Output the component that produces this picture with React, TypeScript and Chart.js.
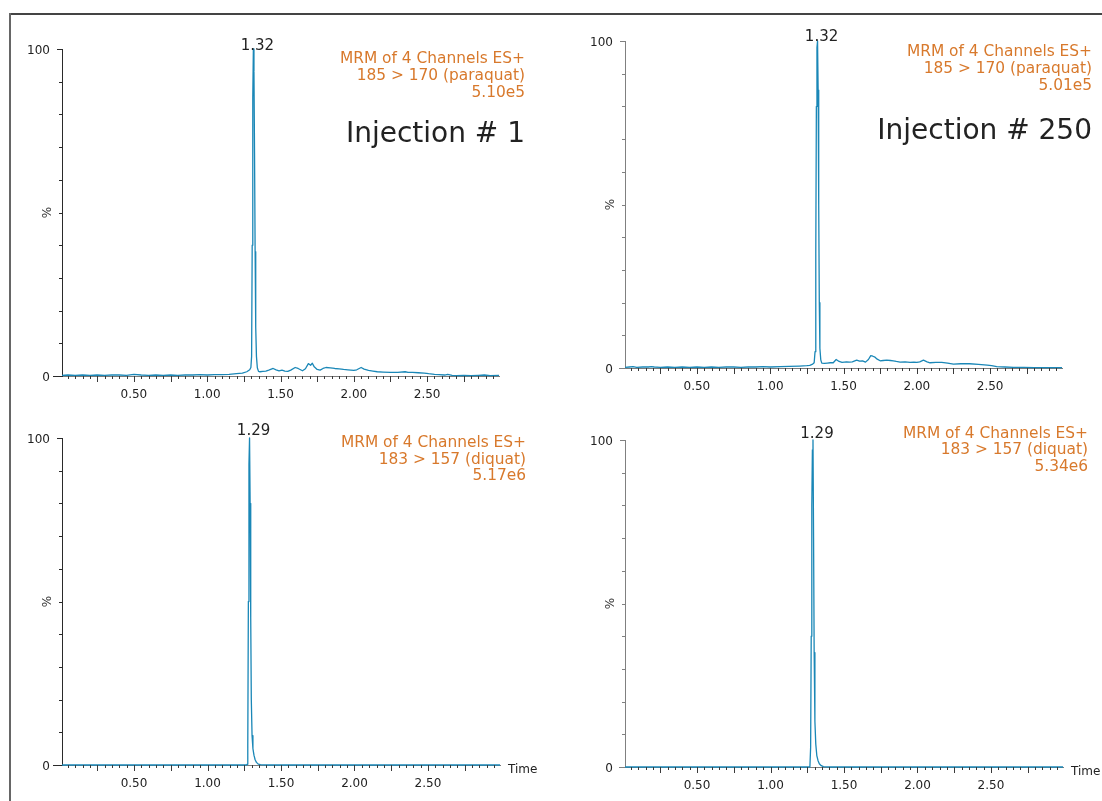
import React, { useEffect, useRef } from 'react';
import { Chart, registerables } from 'chart.js';

Chart.register(...registerables);

const FONT_FAMILY = '"DejaVu Sans", Verdana, sans-serif';
const LINE_COLOR = '#1a87b7';
const HEADER_COLOR = '#d8792c';
const TEXT_COLOR = '#222222';

// axes
const X_MIN = 0.01;
const X_MAX = 2.99;
const xTickLabels = ['0.50', '1.00', '1.50', '2.00', '2.50'];
const yTickLabels = ['0', '100'];
const yAxisTitle = '%';
const xAxisTitle = 'Time';
const xMinorStep = 0.05;
const xMajorStep = 0.25;
const yStep = 10;

// Injection # 1, 185 > 170 (paraquat)
const paraquatInj1Time = [
  0.01, 0.05, 0.10, 0.15, 0.20, 0.25, 0.30, 0.35, 0.40, 0.45, 0.50, 0.55, 0.60, 0.65, 0.70, 0.75, 0.80, 0.85, 0.90, 0.95,
  1.00, 1.05, 1.10, 1.15, 1.20, 1.24, 1.27, 1.29,
  1.298, 1.303, 1.307, 1.311, 1.315, 1.319, 1.323, 1.327, 1.331, 1.336, 1.342,
  1.35, 1.36, 1.38, 1.40, 1.42, 1.45, 1.47, 1.49, 1.51, 1.53, 1.55, 1.57,
  1.60, 1.62, 1.65, 1.67, 1.69, 1.705, 1.717, 1.73, 1.75, 1.77, 1.79,
  1.81, 1.84, 1.87, 1.90, 1.93, 1.96,
  2.00, 2.02, 2.05, 2.07, 2.10, 2.13, 2.16, 2.20, 2.25, 2.30,
  2.35, 2.37, 2.40, 2.44, 2.48, 2.51, 2.55, 2.58, 2.62, 2.64, 2.67, 2.70,
  2.75, 2.80, 2.85, 2.89, 2.93, 2.99,
];
const paraquatInj1Pct = [
  0.2, 0.3, 0.2, 0.3, 0.2, 0.3, 0.2, 0.3, 0.3, 0.2, 0.5, 0.3, 0.2, 0.3, 0.2, 0.3, 0.2, 0.3, 0.3, 0.4,
  0.3, 0.4, 0.4, 0.5, 0.7, 0.9, 1.3, 1.9,
  2.6, 6, 40, 85, 100, 93, 68, 38, 15, 6, 2.5,
  1.4, 1.3, 1.4, 1.5, 1.8, 2.3, 1.9, 1.6, 1.8, 1.5, 1.4, 1.8,
  2.6, 2.3, 1.6, 2.2, 3.8, 3.3, 3.9, 2.8, 2.0, 1.8, 2.3,
  2.6, 2.5, 2.3, 2.2, 2.0, 1.9,
  1.7, 1.9, 2.6, 2.1, 1.7, 1.5, 1.3, 1.2, 1.1, 1.1,
  1.3, 1.1, 1.1, 1.0, 0.9, 0.7, 0.5, 0.4, 0.3, 0.5, 0.2, 0.1,
  0.2, 0.1, 0.2, 0.3, 0.1, 0.2,
];

// Injection # 250, 185 > 170 (paraquat)
const paraquatInj250Time = [
  0.01, 0.04, 0.065, 0.09, 0.13, 0.17, 0.19, 0.21, 0.25,
  0.30, 0.35, 0.40, 0.45, 0.50, 0.55, 0.60, 0.65, 0.70, 0.75, 0.80, 0.85, 0.90, 0.95, 1.00,
  1.07, 1.13, 1.20, 1.25, 1.27, 1.29,
  1.300, 1.306, 1.311, 1.315, 1.319, 1.323, 1.327, 1.331, 1.335, 1.339, 1.345, 1.352,
  1.37, 1.39, 1.41, 1.43, 1.45, 1.47, 1.49,
  1.52, 1.54, 1.56, 1.59, 1.61, 1.63, 1.65, 1.67, 1.686, 1.70, 1.715, 1.73, 1.75, 1.77,
  1.795, 1.82, 1.84, 1.86, 1.886, 1.92, 1.954, 1.98, 2.00, 2.02, 2.045, 2.07, 2.09,
  2.13, 2.17, 2.21, 2.25, 2.30, 2.36, 2.42, 2.48, 2.51, 2.545, 2.60, 2.66, 2.73, 2.80, 2.88, 2.95, 2.99,
];
const paraquatInj250Pct = [
  0.2, 0.3, 0.4, 0.2, 0.3, 0.3, 0.4, 0.3, 0.2,
  0.3, 0.2, 0.3, 0.2, 0.3, 0.2, 0.3, 0.2, 0.3, 0.3, 0.2, 0.3, 0.3, 0.4, 0.3,
  0.4, 0.5, 0.6, 0.7, 0.8, 1.2,
  1.6, 5, 35, 80, 98, 100, 85, 50, 20, 6, 2.5, 1.5,
  1.4, 1.5, 1.6, 1.6, 2.6, 2.0, 1.7,
  1.9, 1.8, 1.9, 2.4, 2.1, 2.2, 1.8, 2.6, 3.8, 3.6, 3.3, 2.7, 2.2, 2.3,
  2.4, 2.3, 2.2, 2.0, 1.8, 1.9, 1.7, 1.8, 1.7, 1.9, 2.4, 1.9, 1.6,
  1.7, 1.7, 1.5, 1.2, 1.3, 1.3, 1.1, 0.9, 0.7, 0.4, 0.3, 0.2, 0.2, 0.1, 0.1, 0.1, 0.1,
];

// Injection # 1, 183 > 157 (diquat)
const diquatInj1Time = [
  0.01, 0.50, 1.00, 1.20, 1.265,
  1.270, 1.274, 1.278, 1.282, 1.286, 1.290, 1.294, 1.298, 1.303, 1.309,
  1.316, 1.324, 1.333, 1.345, 1.36, 1.40,
  1.60, 2.00, 2.50, 2.99,
];
const diquatInj1Pct = [
  0, 0, 0, 0, 0,
  0.2, 6, 50, 92, 100, 80, 45, 20, 9, 5,
  3, 1.6, 0.8, 0.3, 0.1, 0,
  0, 0, 0, 0,
];

// Injection # 250, 183 > 157 (diquat)
const diquatInj250Time = [
  0.01, 0.50, 1.00, 1.20, 1.262,
  1.268, 1.273, 1.277, 1.281, 1.285, 1.289, 1.293, 1.297, 1.302, 1.308,
  1.315, 1.323, 1.332, 1.345, 1.36, 1.40,
  1.60, 2.00, 2.50, 2.99,
];
const diquatInj250Pct = [
  0, 0, 0, 0, 0,
  0.1, 6, 40, 80, 97, 100, 70, 35, 14, 7,
  3.5, 2, 1, 0.4, 0.1, 0,
  0, 0, 0, 0,
];

const headerParaquatInj1 = ['MRM of 4 Channels ES+', '185 > 170 (paraquat)', '5.10e5'];
const headerParaquatInj250 = ['MRM of 4 Channels ES+', '185 > 170 (paraquat)', '5.01e5'];
const headerDiquatInj1 = ['MRM of 4 Channels ES+', '183 > 157 (diquat)', '5.17e6'];
const headerDiquatInj250 = ['MRM of 4 Channels ES+', '183 > 157 (diquat)', '5.34e6'];
const injectionLabels = ['Injection # 1', 'Injection # 250'];
const peakLabels = ['1.32', '1.32', '1.29', '1.29'];
const peakTimes = [1.315, 1.323, 1.286, 1.289];

// layout (page pixel positions)
type Rect = { left: number; top: number; width: number; height: number };
type Area = { left: number; right: number; top: number; bottom: number };
type PanelDef = {
  id: string;
  times: number[];
  values: number[];
  header: string[];
  injection: string;
  peakLabel: string;
  peakTime: number;
  showTime: boolean;
  canvas: Rect;
  area: Area;
  headerRight: number;
  headerBaseline: number;
  injectionBaseline: number;
  peakBaseline: number;
  yAxisColor: string;
  zeroTickLen: number;
};

const panels: PanelDef[] = [
  {
    id: 'p1', times: paraquatInj1Time, values: paraquatInj1Pct, header: headerParaquatInj1,
    injection: injectionLabels[0], peakLabel: peakLabels[0], peakTime: peakTimes[0], showTime: false,
    canvas: { left: 12, top: 16, width: 556, height: 384 },
    area: { left: 62, right: 499, top: 49, bottom: 376 },
    headerRight: 525, headerBaseline: 63.3, injectionBaseline: 141.7, peakBaseline: 50,
    yAxisColor: '#2a2a2a', zeroTickLen: 9,
  },
  {
    id: 'p2', times: paraquatInj250Time, values: paraquatInj250Pct, header: headerParaquatInj250,
    injection: injectionLabels[1], peakLabel: peakLabels[1], peakTime: peakTimes[1], showTime: false,
    canvas: { left: 568, top: 16, width: 534, height: 384 },
    area: { left: 625, right: 1062, top: 41, bottom: 368 },
    headerRight: 1092, headerBaseline: 56, injectionBaseline: 139, peakBaseline: 41,
    yAxisColor: '#808080', zeroTickLen: 6,
  },
  {
    id: 'p3', times: diquatInj1Time, values: diquatInj1Pct, header: headerDiquatInj1,
    injection: '', peakLabel: peakLabels[2], peakTime: peakTimes[2], showTime: true,
    canvas: { left: 12, top: 400, width: 556, height: 401 },
    area: { left: 62, right: 500, top: 438, bottom: 765 },
    headerRight: 526, headerBaseline: 446.7, injectionBaseline: 0, peakBaseline: 435,
    yAxisColor: '#2a2a2a', zeroTickLen: 9,
  },
  {
    id: 'p4', times: diquatInj250Time, values: diquatInj250Pct, header: headerDiquatInj250,
    injection: '', peakLabel: peakLabels[3], peakTime: peakTimes[3], showTime: true,
    canvas: { left: 568, top: 400, width: 534, height: 401 },
    area: { left: 625, right: 1063, top: 440, bottom: 767 },
    headerRight: 1088, headerBaseline: 437.5, injectionBaseline: 0, peakBaseline: 438,
    yAxisColor: '#808080', zeroTickLen: 6,
  },
];

const Y_AXIS_W = 40;
const X_AXIS_H = 24;
const HEADER_LINE_STEP = 16.8;

function buildXTicks(): number[] {
  const out: number[] = [];
  for (let k = 1; k * xMinorStep < X_MAX; k++) out.push(+(k * xMinorStep).toFixed(2));
  return out;
}
function buildYTicks(): number[] {
  const out: number[] = [];
  for (let v = 0; v <= 100; v += yStep) out.push(v);
  return out;
}

function PanelChart({ p }: { p: PanelDef }) {
  const ref = useRef<HTMLCanvasElement | null>(null);

  useEffect(() => {
    const canvas = ref.current;
    if (!canvas) return;
    const c = p.canvas;
    const a = p.area;
    const pad = {
      left: a.left - c.left - Y_AXIS_W,
      right: c.left + c.width - a.right,
      top: a.top - c.top,
      bottom: c.top + c.height - a.bottom - X_AXIS_H,
    };

    const annotate = {
      id: 'annotate-' + p.id,
      afterDraw(chart: any) {
        const ctx = chart.ctx as CanvasRenderingContext2D;
        const xs = chart.scales.x;
        const ys = chart.scales.y;
        const ca = chart.chartArea;
        ctx.save();
        // x tick marks
        ctx.strokeStyle = '#3a3a3a';
        ctx.lineWidth = 1;
        ctx.beginPath();
        xs.ticks.forEach((tk: any) => {
          const px = Math.round(xs.getPixelForValue(tk.value)) + 0.5;
          const r = tk.value / xMajorStep;
          const major = Math.abs(r - Math.round(r)) < 1e-6;
          const len = major ? 6 : 3;
          ctx.moveTo(px, ca.bottom);
          ctx.lineTo(px, ca.bottom + len);
        });
        ctx.stroke();
        // y tick marks
        ctx.strokeStyle = p.yAxisColor;
        ctx.beginPath();
        ys.ticks.forEach((tk: any) => {
          const py = Math.round(ys.getPixelForValue(tk.value)) + 0.5;
          const len = tk.value === 0 ? p.zeroTickLen : tk.value === 100 ? 5 : 3;
          ctx.moveTo(ca.left - len, py);
          ctx.lineTo(ca.left, py);
        });
        ctx.stroke();
        // "%" axis title
        ctx.fillStyle = '#333';
        ctx.font = `12px ${FONT_FAMILY}`;
        ctx.save();
        ctx.translate(ca.left - 14, ys.getPixelForValue(50));
        ctx.rotate(-Math.PI / 2);
        ctx.textAlign = 'center';
        ctx.textBaseline = 'middle';
        ctx.fillText(yAxisTitle, 0, 0);
        ctx.restore();
        // Time
        if (p.showTime) {
          ctx.fillStyle = TEXT_COLOR;
          ctx.font = `12px ${FONT_FAMILY}`;
          ctx.textAlign = 'left';
          ctx.textBaseline = 'alphabetic';
          ctx.fillText(xAxisTitle, ca.right + 8, ca.bottom + 8);
        }
        // peak label
        ctx.fillStyle = TEXT_COLOR;
        ctx.font = `15px ${FONT_FAMILY}`;
        ctx.textAlign = 'center';
        ctx.textBaseline = 'alphabetic';
        ctx.fillText(p.peakLabel, xs.getPixelForValue(p.peakTime) + 4, p.peakBaseline - c.top);
        // header
        ctx.fillStyle = HEADER_COLOR;
        ctx.font = `15.4px ${FONT_FAMILY}`;
        ctx.textAlign = 'right';
        p.header.forEach((line, i) => {
          ctx.fillText(line, p.headerRight - c.left, p.headerBaseline - c.top + i * HEADER_LINE_STEP);
        });
        // injection
        if (p.injection) {
          ctx.fillStyle = TEXT_COLOR;
          ctx.font = `28px ${FONT_FAMILY}`;
          ctx.textAlign = 'right';
          ctx.fillText(p.injection, p.headerRight - c.left, p.injectionBaseline - c.top);
        }
        ctx.restore();
      },
    };

    const chart = new Chart(canvas, {
      type: 'line',
      data: {
        datasets: [
          {
            data: p.times.map((t, i) => ({ x: t, y: p.values[i] })),
            borderColor: LINE_COLOR,
            borderWidth: 1.3,
            borderJoinStyle: 'round',
            pointRadius: 0,
            tension: 0,
            fill: false,
            clip: false,
          } as any,
        ],
      },
      options: {
        responsive: false,
        maintainAspectRatio: false,
        animation: false,
        devicePixelRatio: 1,
        layout: { padding: pad },
        plugins: {
          legend: { display: false },
          tooltip: { enabled: false },
          title: { display: false },
        },
        events: [],
        scales: {
          x: {
            type: 'linear',
            position: 'bottom',
            min: X_MIN,
            max: X_MAX,
            afterFit: (s: any) => {
              s.height = X_AXIS_H;
            },
            afterBuildTicks: (s: any) => {
              s.ticks = buildXTicks().map((v) => ({ value: v }));
            },
            grid: { display: false, drawTicks: false },
            border: { display: true, color: '#7a7a7a', width: 1 },
            ticks: {
              autoSkip: false,
              maxRotation: 0,
              minRotation: 0,
              padding: 12,
              color: TEXT_COLOR,
              font: { family: FONT_FAMILY, size: 12 },
              callback: (v: any) => {
                const s = Number(v).toFixed(2);
                return xTickLabels.includes(s) ? s : '';
              },
            },
          },
          y: {
            type: 'linear',
            position: 'left',
            min: 0,
            max: 100,
            afterFit: (s: any) => {
              s.width = Y_AXIS_W;
            },
            afterBuildTicks: (s: any) => {
              s.ticks = buildYTicks().map((v) => ({ value: v }));
            },
            grid: { display: false, drawTicks: false },
            border: { display: true, color: p.yAxisColor, width: 1 },
            ticks: {
              padding: 12,
              labelOffset: 2,
              color: TEXT_COLOR,
              font: { family: FONT_FAMILY, size: 12 },
              callback: (v: any) => {
                const s = String(v);
                return yTickLabels.includes(s) ? s : '';
              },
            },
          },
        },
      } as any,
      plugins: [annotate],
    });
    return () => chart.destroy();
  }, [p]);

  return (
    <canvas
      ref={ref}
      width={p.canvas.width}
      height={p.canvas.height}
      style={{
        position: 'absolute',
        left: p.canvas.left,
        top: p.canvas.top,
        width: p.canvas.width,
        height: p.canvas.height,
      }}
    />
  );
}

export default function App() {
  return (
    <div
      style={{
        position: 'absolute',
        left: 0,
        top: 0,
        width: 1102,
        height: 801,
        background: '#ffffff',
        overflow: 'hidden',
      }}
    >
      <div style={{ position: 'absolute', left: 9, top: 13, width: 1093, height: 2, background: '#444' }} />
      <div style={{ position: 'absolute', left: 9, top: 13, width: 2, height: 788, background: '#666' }} />
      {panels.map((p) => (
        <PanelChart key={p.id} p={p} />
      ))}
    </div>
  );
}
